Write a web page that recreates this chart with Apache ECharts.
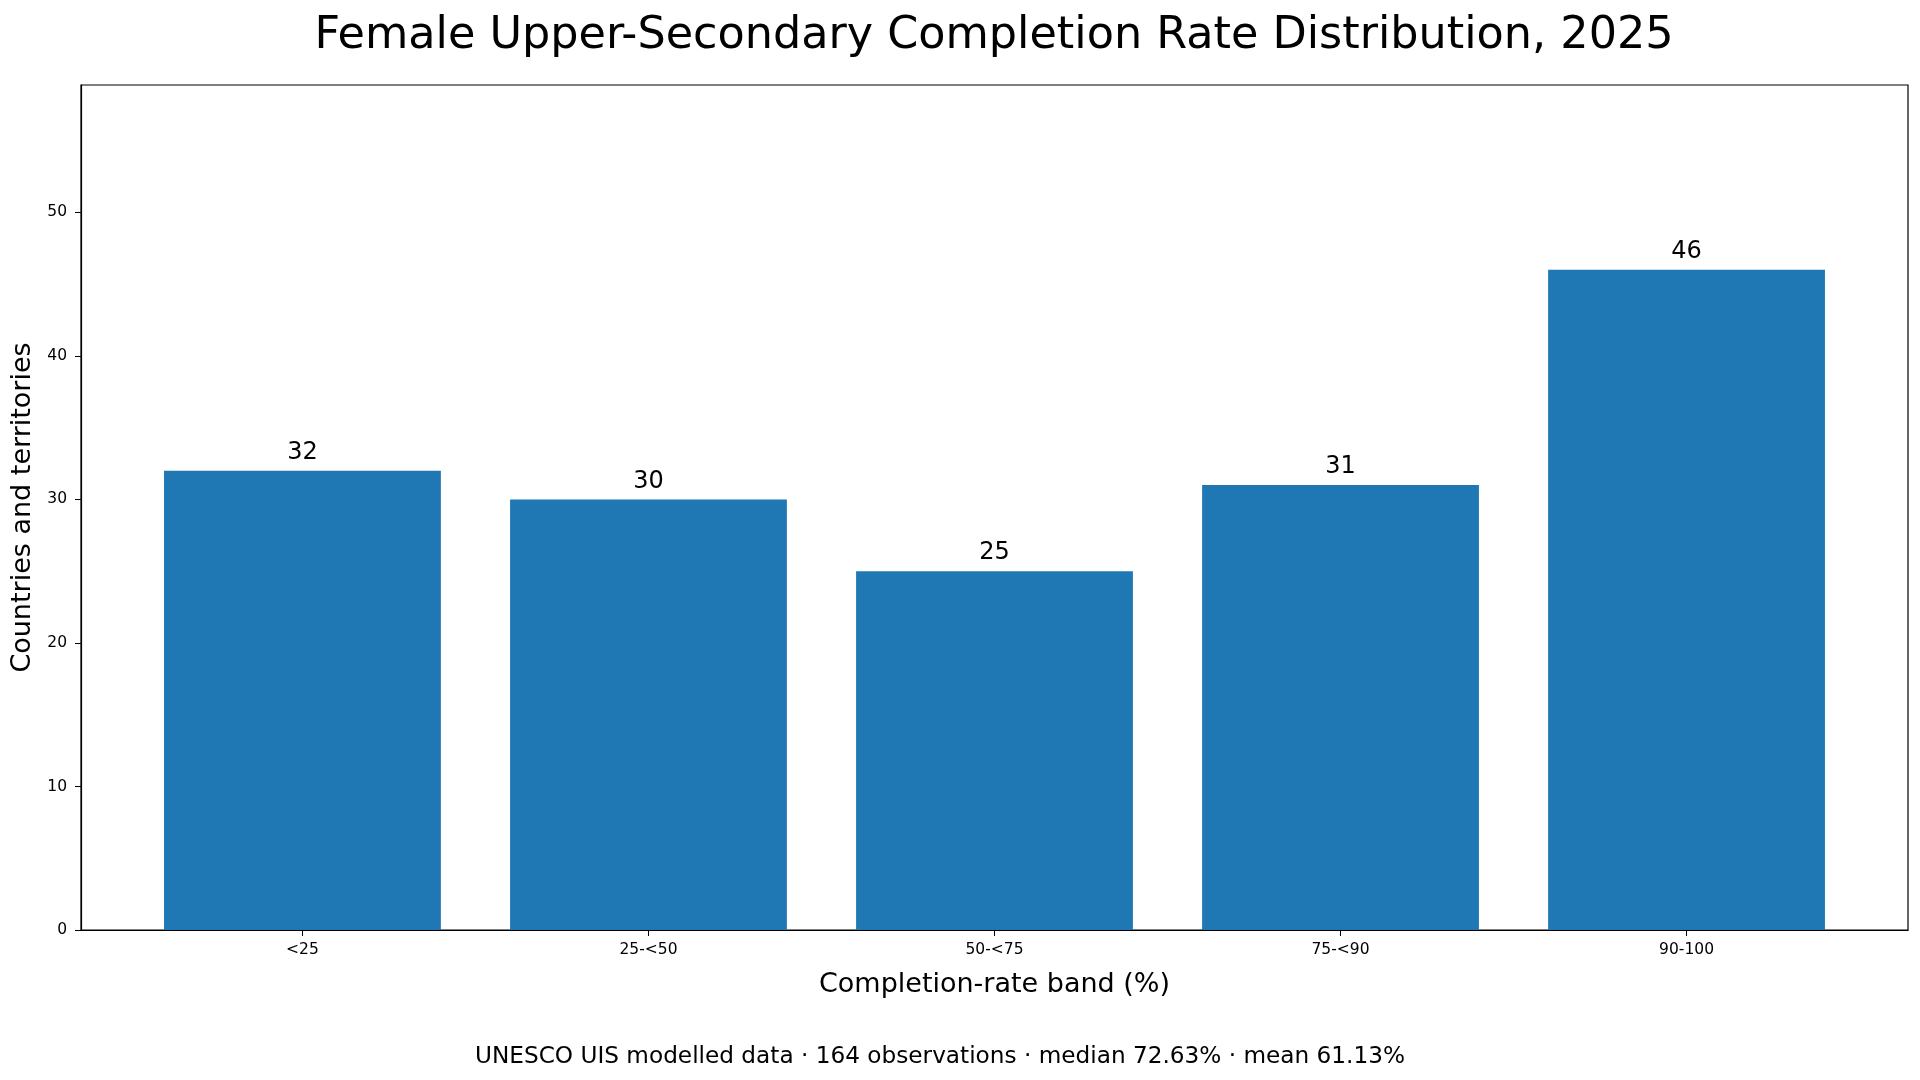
<!DOCTYPE html>
<html>
<head>
<meta charset="utf-8">
<title>Female Upper-Secondary Completion Rate Distribution, 2025</title>
<script src="https://cdn.jsdelivr.net/npm/echarts@6/dist/echarts.min.js"></script>
<style>
    html, body { margin: 0; padding: 0; background: #fff; }
    #chart { width: 1920px; height: 1080px; }
</style>
</head>
<body>
<div id="chart"></div>
<script>
// data
const bands = ['<25', '25-<50', '50-<75', '75-<90', '90-100'];
const counts = [32, 30, 25, 31, 46];
const yTicks = [0, 10, 20, 30, 40, 50];
const footnote = 'UNESCO UIS modelled data \u00b7 164 observations \u00b7 median 72.63% \u00b7 mean 61.13%';

const FONT = 'DejaVu Sans';
const gridLeft = 81, gridRight = 12, gridTop = 85, gridBottom = 150;
const xMin = -0.64, xMax = 4.64;
// matplotlib default bar width: 0.8 of a category step
const barPx = 0.8 * (1920 - gridLeft - gridRight) / (xMax - xMin);

const myChart = echarts.init(document.getElementById('chart'));

const option = {
    animation: false,
    textStyle: { fontFamily: FONT, color: '#000' },
    title: [
        {
            text: 'Female Upper-Secondary Completion Rate Distribution, 2025',
            left: 989,
            top: 9,
            textAlign: 'center',
            textStyle: { fontFamily: FONT, fontSize: 44.5, fontWeight: 'normal', color: '#000' }
        },
        {
            text: footnote,
            left: 935,
            top: 1040,
            textAlign: 'center',
            textStyle: { fontFamily: FONT, fontSize: 23.2, fontWeight: 'normal', color: '#000' }
        }
    ],
    grid: {
        left: gridLeft,
        right: gridRight,
        top: gridTop,
        bottom: gridBottom,
        show: true,
        borderColor: '#000',
        borderWidth: 1.2
    },
    xAxis: {
        type: 'value',
        min: xMin,
        max: xMax,
        name: 'Completion-rate band (%)',
        nameLocation: 'middle',
        nameGap: 41,
        nameTextStyle: { fontFamily: FONT, fontSize: 27, color: '#000' },
        axisLine: { show: true, onZero: false, lineStyle: { color: '#000', width: 1.2 } },
        axisTick: { show: true, length: 6, customValues: [0, 1, 2, 3, 4], lineStyle: { color: '#000' } },
        axisLabel: {
            customValues: [0, 1, 2, 3, 4],
            margin: 12,
            fontFamily: FONT,
            fontSize: 15.5,
            color: '#000',
            formatter: function (v) { return bands[Math.round(v)]; }
        },
        splitLine: { show: false }
    },
    yAxis: {
        type: 'value',
        min: 0,
        max: 58.88,
        name: 'Countries and territories',
        nameLocation: 'middle',
        nameGap: 39,
        nameTextStyle: { fontFamily: FONT, fontSize: 27, color: '#000' },
        axisLine: { show: true, onZero: false, lineStyle: { color: '#000', width: 1.2 } },
        axisTick: { show: true, length: 6, customValues: yTicks, lineStyle: { color: '#000' } },
        axisLabel: {
            customValues: yTicks,
            margin: 14,
            padding: [4, 0, 0, 0],
            fontFamily: FONT,
            fontSize: 15.5,
            color: '#000'
        },
        splitLine: { show: false }
    },
    series: [{
        type: 'bar',
        data: bands.map((b, i) => [i, counts[i]]),
        barWidth: barPx,
        itemStyle: { color: '#1f77b4' },
        label: {
            show: true,
            position: 'top',
            distance: 6,
            fontFamily: FONT,
            fontSize: 24,
            color: '#000'
        }
    }]
};

myChart.setOption(option);
</script>
</body>
</html>
